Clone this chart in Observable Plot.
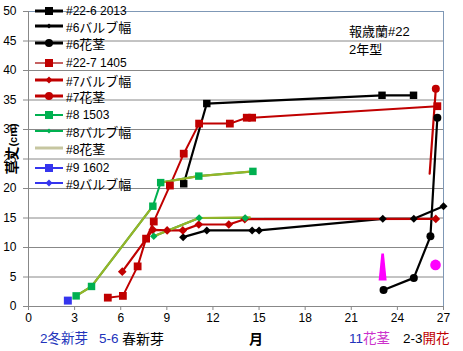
<!DOCTYPE html>
<html><head><meta charset="utf-8">
<script src="https://cdn.jsdelivr.net/npm/d3@7"></script>
<script src="https://cdn.jsdelivr.net/npm/@observablehq/plot@0.6"></script>
<style>
body{margin:0;background:#fff;}
#wrap{position:relative;width:463px;height:351px;font-family:"Liberation Sans","Noto Sans CJK JP",sans-serif;color:#000;}
.abs{position:absolute;white-space:nowrap;line-height:1;}
.lg{position:absolute;left:35px;height:14px;display:flex;align-items:center;font-size:12px;white-space:nowrap;}
.lg svg{display:block;margin-right:2px;}
.cjk{font-size:13px;}
</style></head>
<body><div id="wrap"></div>
<script>
// ---- data ----
const xTicks = [0,3,6,9,12,15,18,21,24,27];
const yTicks = [0,5,10,15,20,25,30,35,40,45,50];

const s22_6_x = [10.1, 11.6, 23.0, 25.05];
const s22_6_y = [20.8, 34.4, 35.8, 35.8];
const s6bulb_x = [10.06, 11.6, 14.55, 15.0, 23.05, 25.07, 27.0];
const s6bulb_y = [11.75, 12.9, 12.9, 12.9, 14.86, 14.86, 17.0];
const s6stem_x = [23.1, 25.07, 26.15, 26.6];
const s6stem_y = [2.8, 4.85, 11.9, 32.0];
const s22_7_x = [5.16, 6.14, 7.1, 7.65, 8.15, 9.2, 10.1, 11.1, 13.1, 14.2, 14.55, 26.6];
const s22_7_y = [1.5, 1.8, 6.8, 11.5, 14.4, 20.5, 25.9, 31.0, 31.0, 32.0, 32.0, 33.95];
const s7bulb_x = [6.1, 8.09, 9.02, 10.04, 11.08, 13.03, 14.07, 26.5];
const s7bulb_y = [5.9, 13.0, 12.9, 12.9, 13.9, 13.9, 14.8, 14.85];
const s7stem_x = [26.1, 26.5];
const s7stem_y = [22.5, 36.9];
const s8_x = [3.1, 4.1, 8.09, 8.6, 11.08, 14.6];
const s8_y = [1.8, 3.4, 17.0, 21.0, 22.1, 22.9];
const s8bulb_x = [8.15, 11.1, 14.1];
const s8bulb_y = [11.9, 15.0, 15.0];
const s8stem_x = [3.1, 4.1, 8.09, null, 8.6, 11.08, 14.6, null, 8.15, 11.1, 14.4];
const s8stem_y = [1.8, 3.4, 17.0, null, 21.0, 22.1, 22.9, null, 11.9, 15.0, 15.1];
const s9_x = [2.56];
const s9_y = [1.0];
const spike_x = [23.04], spike_y = [6.7];
const bloom_x = [26.48], bloom_y = [7.05];

const legendNames = ["#22-6 2013","#6バルブ幅","#6花茎","#22-7 1405","#7バルブ幅","#7花茎","#8 1503","#8バルブ幅","#8花茎","#9 1602","#9バルブ幅"];

// ---- build ----
const rows = (xs, ys) => xs.map((x, i) => ({x, y: ys[i]}));
const RED = "#C00000", GREEN = "#00B050", OLIVE = "#98B428", BLUE = "#3535EE", MAG = "#FF00FF";

const spikeSymbol = {
  draw(ctx) {
    ctx.moveTo(-1.3, -13.5);
    ctx.lineTo(1.3, -13.5);
    ctx.lineTo(4, 13.5);
    ctx.lineTo(-4, 13.5);
    ctx.closePath();
  }
};

const series = [
  {d: rows(s22_6_x, s22_6_y), c: "black", w: 2.2, sym: "square", r: 4.2},
  {d: rows(s6bulb_x, s6bulb_y), c: "black", w: 2.2, sym: "diamond2", r: 3.6},
  {d: rows(s6stem_x, s6stem_y), c: "black", w: 2.2, sym: "circle", r: 4},
  {d: rows(s22_7_x, s22_7_y), c: RED, w: 2, sym: "square", r: 4.4},
  {d: rows(s7bulb_x, s7bulb_y), c: RED, w: 2.2, sym: "diamond2", r: 3.9},
  {d: rows(s7stem_x, s7stem_y), c: RED, w: 2.2, sym: "circle", r: 4, dotFilter: (d, i) => i > 0},
  {d: rows(s8_x, s8_y), c: GREEN, w: 2, sym: "square", r: 4.2},
  {d: rows(s8bulb_x, s8bulb_y), c: GREEN, w: 2, sym: "diamond2", r: 3.4},
  {d: rows(s8stem_x, s8stem_y), c: OLIVE, w: 2.2, sym: null},
  {d: rows(s9_x, s9_y), c: BLUE, w: 2, sym: "square", r: 4.5}
];

const marks = [
  Plot.ruleY(yTicks.filter(t => t > 0 && t < 50), {stroke: "#888888", strokeWidth: 1}),
  Plot.ruleY([50], {stroke: "#7F98B6"}),
  Plot.ruleX([27], {stroke: "#7F98B6"}),
  Plot.ruleX([0], {stroke: "#888888"}),
  Plot.ruleY([0], {stroke: "#888888"}),
  Plot.axisX({ticks: xTicks, tickSize: 4, tickPadding: 3, stroke: "#888888", fill: "black", label: null, fontSize: 12}),
  Plot.axisY({ticks: yTicks, tickSize: 5, tickPadding: 7, stroke: "#888888", fill: "black", label: null, fontSize: 12})
];
for (const s of series) {
  marks.push(Plot.line(s.d, {x: "x", y: "y", stroke: s.c, strokeWidth: s.w}));
}
for (const s of series) {
  if (!s.sym) continue;
  const data = s.dotFilter ? s.d.filter(s.dotFilter) : s.d;
  marks.push(Plot.dot(data, {x: "x", y: "y", symbol: s.sym, r: s.r, fill: s.c, stroke: "none"}));
}
marks.push(Plot.dot(rows(spike_x, spike_y), {x: "x", y: "y", symbol: spikeSymbol, r: 4, fill: MAG, stroke: "none"}));
marks.push(Plot.dot(rows(bloom_x, bloom_y), {x: "x", y: "y", symbol: "circle", r: 5.3, fill: MAG, stroke: "none"}));

const chart = Plot.plot({
  width: 463, height: 351,
  marginLeft: 28, marginRight: 20, marginTop: 11, marginBottom: 45,
  x: {domain: [0, 27]},
  y: {domain: [0, 50]},
  style: {fontFamily: "'Liberation Sans', Arial, sans-serif", fontSize: "12px", color: "black", background: "white", overflow: "visible"},
  marks
});
const wrap = document.getElementById("wrap");
chart.style.position = "absolute";
chart.style.left = "0"; chart.style.top = "0";
wrap.appendChild(chart);

// ---- legend (overlay) ----
const legendY = [11, 26, 43, 63, 80, 96, 115, 131, 148, 168, 183];
const legendStyle = [
  {c: "black", w: 3, sym: "sq", s: 8},
  {c: "black", w: 3, sym: "di", s: 5},
  {c: "black", w: 3, sym: "ci", s: 4},
  {c: "#B83A3A", w: 1.6, sym: "sq", s: 8, mc: RED},
  {c: RED, w: 3, sym: "di", s: 7},
  {c: RED, w: 3, sym: "ci", s: 4},
  {c: GREEN, w: 2, sym: "sq", s: 8},
  {c: GREEN, w: 2, sym: "di", s: 5},
  {c: "#C6C6A0", w: 3, sym: null},
  {c: BLUE, w: 2, sym: "sq", s: 8},
  {c: BLUE, w: 2, sym: "di", s: 7}
];
legendNames.forEach((name, i) => {
  const st = legendStyle[i];
  const mc = st.mc || st.c;
  let m = "";
  if (st.sym === "sq") m = `<rect x="${14 - st.s/2}" y="${7 - st.s/2}" width="${st.s}" height="${st.s}" fill="${mc}"/>`;
  if (st.sym === "di") m = `<path d="M14 ${7 - st.s/2} L${14 + st.s/2} 7 L14 ${7 + st.s/2} L${14 - st.s/2} 7Z" fill="${mc}"/>`;
  if (st.sym === "ci") m = `<circle cx="14" cy="7" r="${st.s}" fill="${mc}"/>`;
  const label = name.replace(/([^\x00-\x7F]+)/g, '<span class="cjk">$1</span>');
  const div = document.createElement("div");
  div.className = "lg";
  div.style.top = (legendY[i] - 7) + "px";
  div.innerHTML = `<svg width="29" height="14"><line x1="0" x2="28" y1="7" y2="7" stroke="${st.c}" stroke-width="${st.w}"/>${m}</svg><span>${label}</span>`;
  wrap.appendChild(div);
});

// ---- texts ----
function addText(html, left, top, css) {
  const d = document.createElement("div");
  d.className = "abs";
  d.style.left = left + "px";
  d.style.top = top + "px";
  d.style.cssText += css || "";
  d.innerHTML = html;
  wrap.appendChild(d);
  return d;
}
addText("報歳蘭#22", 349, 25, "font-size:13px;");
addText("2年型", 349, 43, "font-size:13px;");
addText('<b style="font-size:14px">草丈</b><b style="font-size:11px">(cm)</b>', 12, 149, "transform:translate(-50%,-50%) rotate(-90deg);");
const BL = "#2233BB";
addText(`<span style="color:${BL}">2冬新芽</span>`, 40, 332, "font-size:13.5px;");
addText(`<span style="color:${BL}">5-6</span>`, 99, 332, "font-size:13.5px;");
addText("春新芽", 122, 332, "font-size:14px;");
addText("<b>月</b>", 249, 332, "font-size:14px;");
addText(`<span style="color:${BL}">11</span><span style="color:#CC33CC">花茎</span>`, 349, 332, "font-size:13.5px;");
addText(`2-3<span style="color:${RED}">開花</span>`, 403, 332, "font-size:13.5px;");
</script></body></html>
